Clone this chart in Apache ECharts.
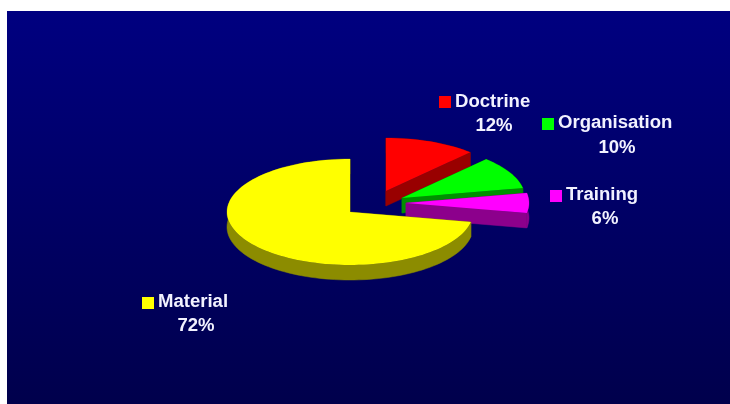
<!DOCTYPE html>
<html>
<head>
<meta charset="utf-8">
<style>html,body{margin:0;padding:0;background:#fff}#c{width:730px;height:404px}</style>
<script src="https://cdn.jsdelivr.net/npm/echarts@6/dist/echarts.min.js"></script>
</head>
<body>
<div id="c"></div>
<script>
// Data
const categories = ['Doctrine', 'Organisation', 'Training', 'Material'];
const shares = [12, 10, 6, 72];

// Styles and layout (no data here)
const topColors = ['#ff0000', '#00ff00', '#ff00ff', '#ffff00'];
const sideColors = ['#990000', '#009000', '#8c008c', '#8c8c00'];
const apex = [[386, 191], [402, 198], [406, 203], [350, 212]];
const swatchAt = [[439, 96], [542, 118], [550, 190], [142, 297]];
const nameAt = [[455, 102], [558, 123], [566, 195], [158, 302]];
const pctAt = [[494, 126], [617, 148], [605, 219], [196, 326]];
const RX = 123, RY = 53, DEPTH = 15, SWATCH = 12;
const total = shares.reduce((a, b) => a + b, 0);

function renderSlice(params, api) {
  const i = params.dataIndex;
  const value = api.value(0);
  let before = 0;
  for (let k = 0; k < i; k++) before += shares[k];
  const a0 = before / total * Math.PI * 2;
  const a1 = (before + value) / total * Math.PI * 2;
  const [cx, cy] = apex[i];
  const arc = [];
  const steps = Math.max(6, Math.ceil((a1 - a0) / 0.04));
  for (let s = 0; s <= steps; s++) {
    const a = a0 + (a1 - a0) * s / steps;
    arc.push([cx + RX * Math.sin(a), cy - RY * Math.cos(a)]);
  }
  const drop = p => [p[0], p[1] + DEPTH];
  const side = { fill: sideColors[i], stroke: sideColors[i], lineWidth: 0.5 };
  const c = [cx, cy], first = arc[0], last = arc[arc.length - 1];
  const band = arc.concat(arc.slice().reverse().map(drop));
  const children = [
    { type: 'polygon', shape: { points: [c, first, drop(first), drop(c)] }, style: side },
    { type: 'polygon', shape: { points: [c, last, drop(last), drop(c)] }, style: side },
    { type: 'polygon', shape: { points: band }, style: side },
    { type: 'polygon', shape: { points: [c].concat(arc) }, style: { fill: topColors[i] } },
    {
      type: 'rect',
      shape: { x: swatchAt[i][0], y: swatchAt[i][1], width: SWATCH, height: SWATCH },
      style: { fill: topColors[i] }
    }
  ];
  const font = 'bold 18px "Liberation Sans", Arial, sans-serif';
  children.push({
    type: 'text', x: nameAt[i][0], y: nameAt[i][1], scaleX: 1.03,
    style: { x: 0, y: 0, text: categories[i], fill: '#f2f2ff', font: font, align: 'left', verticalAlign: 'middle' }
  });
  children.push({
    type: 'text', x: pctAt[i][0], y: pctAt[i][1], scaleX: 1.03,
    style: { x: 0, y: 0, text: value + '%', fill: '#f2f2ff', font: font, align: 'center', verticalAlign: 'middle' }
  });
  return { type: 'group', children: children };
}

const chart = echarts.init(document.getElementById('c'), null, { renderer: 'canvas' });
chart.setOption({
  animation: false,
  backgroundColor: '#ffffff',
  graphic: [{
    type: 'rect',
    z: -10,
    shape: { x: 7, y: 11, width: 723, height: 393 },
    style: {
      fill: new echarts.graphic.LinearGradient(0, 0, 0, 1, [
        { offset: 0, color: '#000080' },
        { offset: 1, color: '#00004c' }
      ])
    },
    silent: true
  }],
  series: [{
    type: 'custom',
    coordinateSystem: 'none',
    silent: true,
    renderItem: renderSlice,
    data: shares.map(v => [v])
  }]
});
</script>
</body>
</html>
